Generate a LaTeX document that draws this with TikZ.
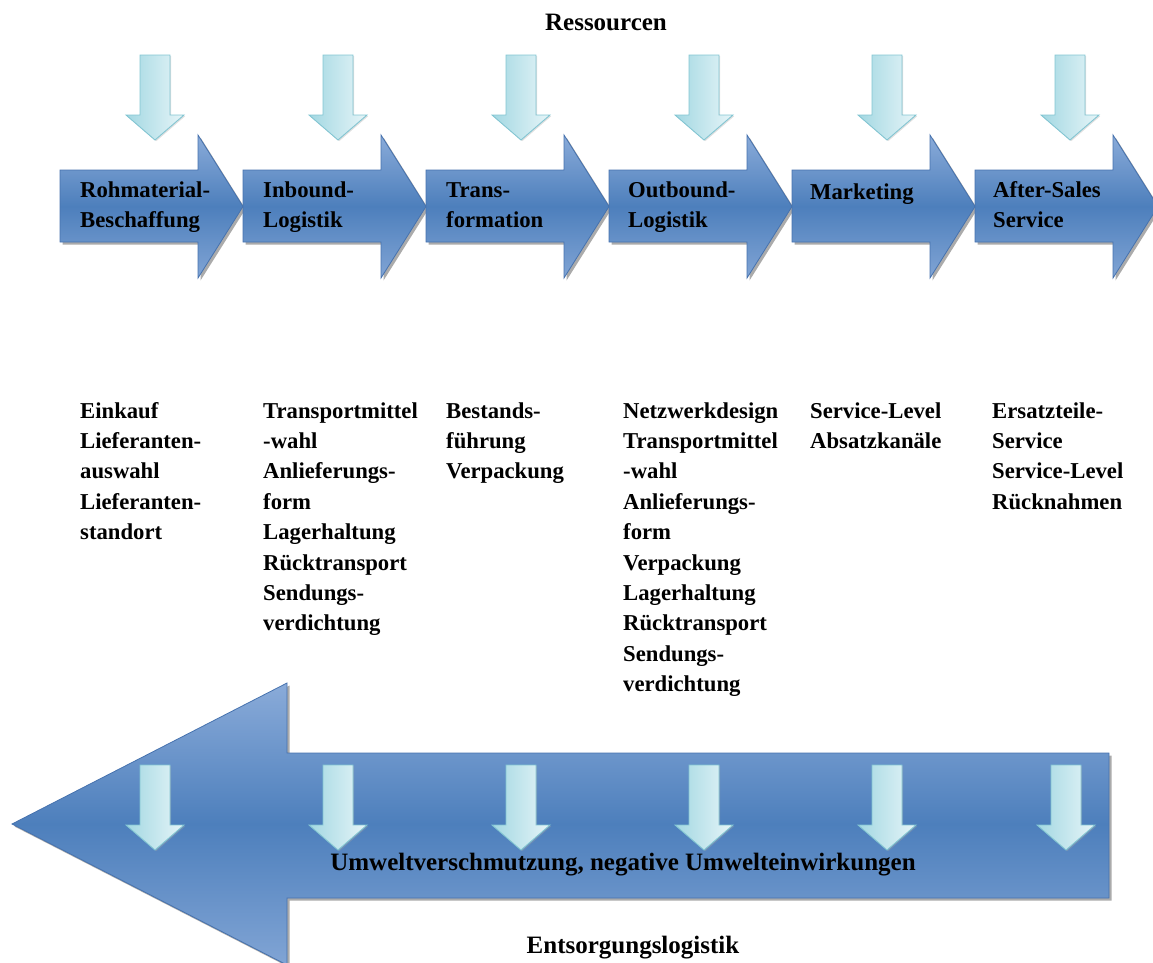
\documentclass[tikz,border=0pt]{standalone}
\usepackage{fontspec}
\setmainfont{Liberation Serif}
\usetikzlibrary{shadows}
\definecolor{chevmid}{HTML}{4D7FBC}
\definecolor{chevlight}{HTML}{8AABD9}
\definecolor{chevedge}{HTML}{4672AE}
\definecolor{dropl}{HTML}{A3D8E2}
\definecolor{dropr}{HTML}{E6F5F8}
\definecolor{dropedge}{HTML}{82C5D2}
\tikzset{
  chevron/.style={draw=chevedge, line width=0.8pt, top color=chevlight, bottom color=chevlight!85!chevmid, middle color=chevmid,
    drop shadow={shadow xshift=2.5pt, shadow yshift=-2.5pt, fill=black!60, opacity=0.55}},
  droparrow/.style={draw=dropedge, line width=0.9pt, left color=dropl, right color=dropr,
    drop shadow={shadow xshift=1.2pt, shadow yshift=-1.2pt, fill=black!35, opacity=0.35}},
  lbl/.style={font=\bfseries\fontsize{22.7}{30.4}\selectfont, inner sep=0pt, text=black},
  title/.style={font=\bfseries\fontsize{25}{30}\selectfont, inner sep=0pt, text=black},
}
% stacked lines, anchored on the baseline of the first line
\newcommand\stack[1]{\begin{tabular}[t]{@{}l@{}}#1\end{tabular}}
\newcommand\dropdown[2]{%
  \path[droparrow] (#1-15,#2) -- (#1+15,#2) -- (#1+15,#2+60) -- (#1+29,#2+60) -- (#1,#2+85)
    -- (#1-29,#2+60) -- (#1-15,#2+60) -- cycle;}
\begin{document}
\begin{tikzpicture}[x=1pt,y=-1pt]
\useasboundingbox (0,0) rectangle (1153,962);
\clip (0,0) rectangle (1153,962);

% resource inflow arrows
\foreach \i in {0,...,5} {
  \pgfmathsetmacro\cx{155+183*\i}
  \dropdown{\cx}{55}
}

% value chain chevrons
\foreach \i in {0,...,5} {
  \pgfmathsetmacro\xa{60+183*\i}
  \path[chevron] (\xa,170) -- (\xa+138,170) -- (\xa+138,135) -- (\xa+183,206.5)
    -- (\xa+138,278) -- (\xa+138,242) -- (\xa,242) -- cycle;
}

\node[title, anchor=base] (res) at (606,30) {Ressourcen};

\node[lbl, anchor=base west] (c1) at (80,197) {\stack{Rohmaterial-\\Beschaffung}};
\node[lbl, anchor=base west] (c2) at (263,197) {\stack{Inbound-\\Logistik}};
\node[lbl, anchor=base west] (c3) at (446,197) {\stack{Trans-\\formation}};
\node[lbl, anchor=base west] (c4) at (628,197) {\stack{Outbound-\\Logistik}};
\node[lbl, anchor=base west] (c5) at (810,199) {Marketing};
\node[lbl, anchor=base west] (c6) at (993,197) {\stack{After-Sales\\Service}};

% activities per stage
\node[lbl, anchor=base west] (l1) at (80,418) {\stack{Einkauf\\Lieferanten-\\auswahl\\Lieferanten-\\standort}};
\node[lbl, anchor=base west] (l2) at (263,418) {\stack{Transportmittel\\-wahl\\Anlieferungs-\\form\\Lagerhaltung\\Rücktransport\\Sendungs-\\verdichtung}};
\node[lbl, anchor=base west] (l3) at (446,418) {\stack{Bestands-\\führung\\Verpackung}};
\node[lbl, anchor=base west] (l4) at (623,418) {\stack{Netzwerkdesign\\Transportmittel\\-wahl\\Anlieferungs-\\form\\Verpackung\\Lagerhaltung\\Rücktransport\\Sendungs-\\verdichtung}};
\node[lbl, anchor=base west] (l5) at (810,418) {\stack{Service-Level\\Absatzkanäle}};
\node[lbl, anchor=base west] (l6) at (992,418) {\stack{Ersatzteile-\\Service\\Service-Level\\Rücknahmen}};

% disposal logistics backflow
\path[chevron] (1109,753) -- (287,753) -- (287,683) -- (12,824) -- (287,965)
  -- (287,898) -- (1109,898) -- cycle;
\foreach \cx in {155,338,521,704,887,1066} {
  \dropdown{\cx}{765}
}
\node[title, anchor=base] (env) at (623,870) {Umweltverschmutzung, negative Umwelteinwirkungen};
\node[title, anchor=base] (ent) at (633,953) {Entsorgungslogistik};
\end{tikzpicture}
\end{document}
